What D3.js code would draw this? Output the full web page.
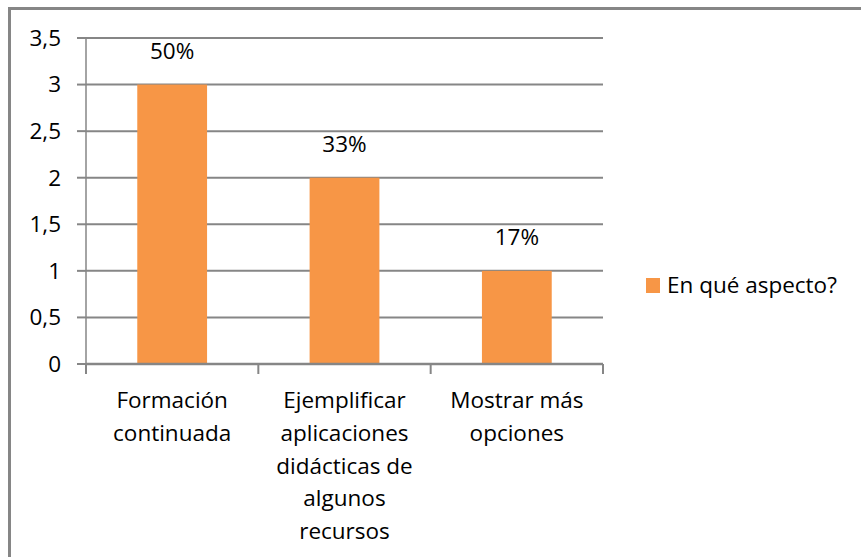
<!DOCTYPE html>
<html>
<head>
<meta charset="utf-8">
<script src="https://cdn.jsdelivr.net/npm/d3@7"></script>
<style>
  body { margin: 0; background: #fff; }
  text { font-family: "Open Sans", Lato, sans-serif; fill: #000; }
</style>
</head>
<body>
<svg id="chart" width="861" height="557"></svg>
<script>
// datos
const categories = [
  ["Formación", "continuada"],
  ["Ejemplificar", "aplicaciones", "didácticas de", "algunos", "recursos"],
  ["Mostrar más", "opciones"]
];
const values = [3, 2, 1];
const percents = ["50%", "33%", "17%"];
const yTicks = [0, 0.5, 1, 1.5, 2, 2.5, 3, 3.5];
const seriesName = "En qué aspecto?";

const svg = d3.select("#chart");
const grey = "#868686";
const orange = "#f79646";
const fontSize = "22.5px";

// marco del grafico (se sale por la derecha y por abajo)
svg.append("rect")
    .attr("x", 9.5).attr("y", 8.5)
    .attr("width", 900).attr("height", 600)
    .attr("fill", "none").attr("stroke", grey).attr("stroke-width", 3);

const plotL = 86, plotR = 603, plotT = 38, plotB = 364;

const x = d3.scaleBand()
    .domain(d3.range(categories.length))
    .range([plotL, plotR])
    .paddingInner(0.595)
    .paddingOuter(0.2975);
const band = d3.scaleBand().domain(d3.range(categories.length)).range([plotL, plotR]);
const y = d3.scaleLinear().domain([0, 3.5]).range([plotB, plotT]);

// lineas de division
svg.append("g").selectAll("line")
    .data(yTicks.filter(d => d > 0))
    .join("line")
    .attr("x1", plotL).attr("x2", plotR)
    .attr("y1", d => y(d)).attr("y2", d => y(d))
    .attr("stroke", grey).attr("stroke-width", 2);

// eje y
const yAxis = svg.append("g");
yAxis.append("line")
    .attr("x1", plotL).attr("x2", plotL)
    .attr("y1", plotT).attr("y2", plotB)
    .attr("stroke", grey).attr("stroke-width", 1.5);
yAxis.selectAll("line.tick")
    .data(yTicks)
    .join("line").attr("class", "tick")
    .attr("x1", plotL - 9).attr("x2", plotL)
    .attr("y1", d => y(d)).attr("y2", d => y(d))
    .attr("stroke", grey).attr("stroke-width", 2);
yAxis.selectAll("text")
    .data(yTicks)
    .join("text")
    .attr("x", 61).attr("y", d => y(d))
    .attr("dy", "0.35em")
    .attr("text-anchor", "end")
    .style("font-size", fontSize)
    .text(d => String(d).replace(".", ","));

// barras
svg.append("g").selectAll("rect")
    .data(values)
    .join("rect")
    .attr("x", (d, i) => x(i))
    .attr("width", x.bandwidth())
    .attr("y", d => y(d))
    .attr("height", d => y(0) - y(d))
    .attr("fill", orange);

// eje x
const xAxis = svg.append("g");
xAxis.append("line")
    .attr("x1", plotL).attr("x2", plotR)
    .attr("y1", plotB).attr("y2", plotB)
    .attr("stroke", grey).attr("stroke-width", 2.5);
xAxis.selectAll("line.tick")
    .data(d3.range(categories.length + 1))
    .join("line").attr("class", "tick")
    .attr("x1", i => plotL + i * band.bandwidth())
    .attr("x2", i => plotL + i * band.bandwidth())
    .attr("y1", plotB).attr("y2", plotB + 10)
    .attr("stroke", grey).attr("stroke-width", 2);
xAxis.selectAll("text")
    .data(categories)
    .join("text")
    .attr("text-anchor", "middle")
    .style("font-size", fontSize)
    .each(function(lines, i) {
        d3.select(this).selectAll("tspan")
            .data(lines)
            .join("tspan")
            .attr("x", band(i) + band.bandwidth() / 2)
            .attr("y", (d, k) => 408 + k * 32.8)
            .text(d => d);
    });

// etiquetas de datos
svg.append("g").selectAll("text")
    .data(values)
    .join("text")
    .attr("x", (d, i) => x(i) + x.bandwidth() / 2)
    .attr("y", d => y(d) - 26)
    .attr("text-anchor", "middle")
    .style("font-size", fontSize)
    .text((d, i) => percents[i]);

// leyenda
const legend = svg.append("g").attr("transform", "translate(646,278)");
legend.append("rect")
    .attr("width", 14).attr("height", 15)
    .attr("fill", orange);
legend.append("text")
    .attr("x", 21).attr("y", 7.5)
    .attr("dy", "0.35em")
    .style("font-size", fontSize)
    .text(seriesName);
</script>
</body>
</html>
